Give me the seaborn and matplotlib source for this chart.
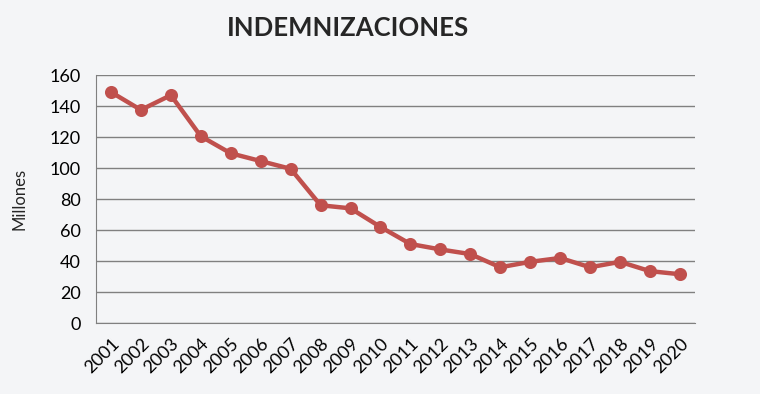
import seaborn as sns
import matplotlib.pyplot as plt
import pandas as pd

anios = [str(a) for a in range(2001, 2021)]
indemnizaciones = [149, 137.5, 147, 120.5, 109.5, 104.5, 99.5, 76, 74, 62,
                   51, 47.5, 44.5, 36, 39.5, 42, 36, 39.5, 33.5, 31.5]

df = pd.DataFrame({"anio": anios, "valor": indemnizaciones})

sns.set_style("white")
plt.rcParams['font.family'] = ['Lato', 'DejaVu Sans']

fondo = "#F4F5F7"
fig = plt.figure(figsize=(7.6, 3.94), dpi=100, facecolor=fondo)
ax = fig.add_axes([0.1263, 0.180, 0.788, 0.6296])
ax.set_facecolor(fondo)

sns.pointplot(data=df, x="anio", y="valor", color="#C0504D", ax=ax,
              markers="o", linewidth=3.2, markersize=7)

ax.set_ylim(0, 160)
ax.set_yticks(range(0, 161, 20))
ax.set_xlim(-0.5, 19.5)
ax.yaxis.grid(True, color="#808080", linewidth=1)
ax.set_axisbelow(True)
for s in ["top", "right"]:
    ax.spines[s].set_visible(False)
for s in ["left", "bottom"]:
    ax.spines[s].set_color("#808080")
ax.tick_params(axis="both", which="both", length=5, color="#808080",
               labelsize=13, labelcolor="black", direction="out")
ax.set_xticks([i - 0.5 for i in range(21)], minor=True)
ax.set_xticks(range(20))
ax.set_xticklabels(anios, rotation=45, ha="right", rotation_mode="anchor")
ax.tick_params(axis="x", which="major", length=0, pad=9)
ax.tick_params(axis="y", pad=6)
ax.set_xlabel("")
ax.set_ylabel("Millones", fontsize=12, labelpad=16)

fig.text(0.458, 0.93, "INDEMNIZACIONES", ha="center", va="center",
         fontsize=18.5, fontweight="bold")

plt.savefig("out.png", facecolor=fondo)
